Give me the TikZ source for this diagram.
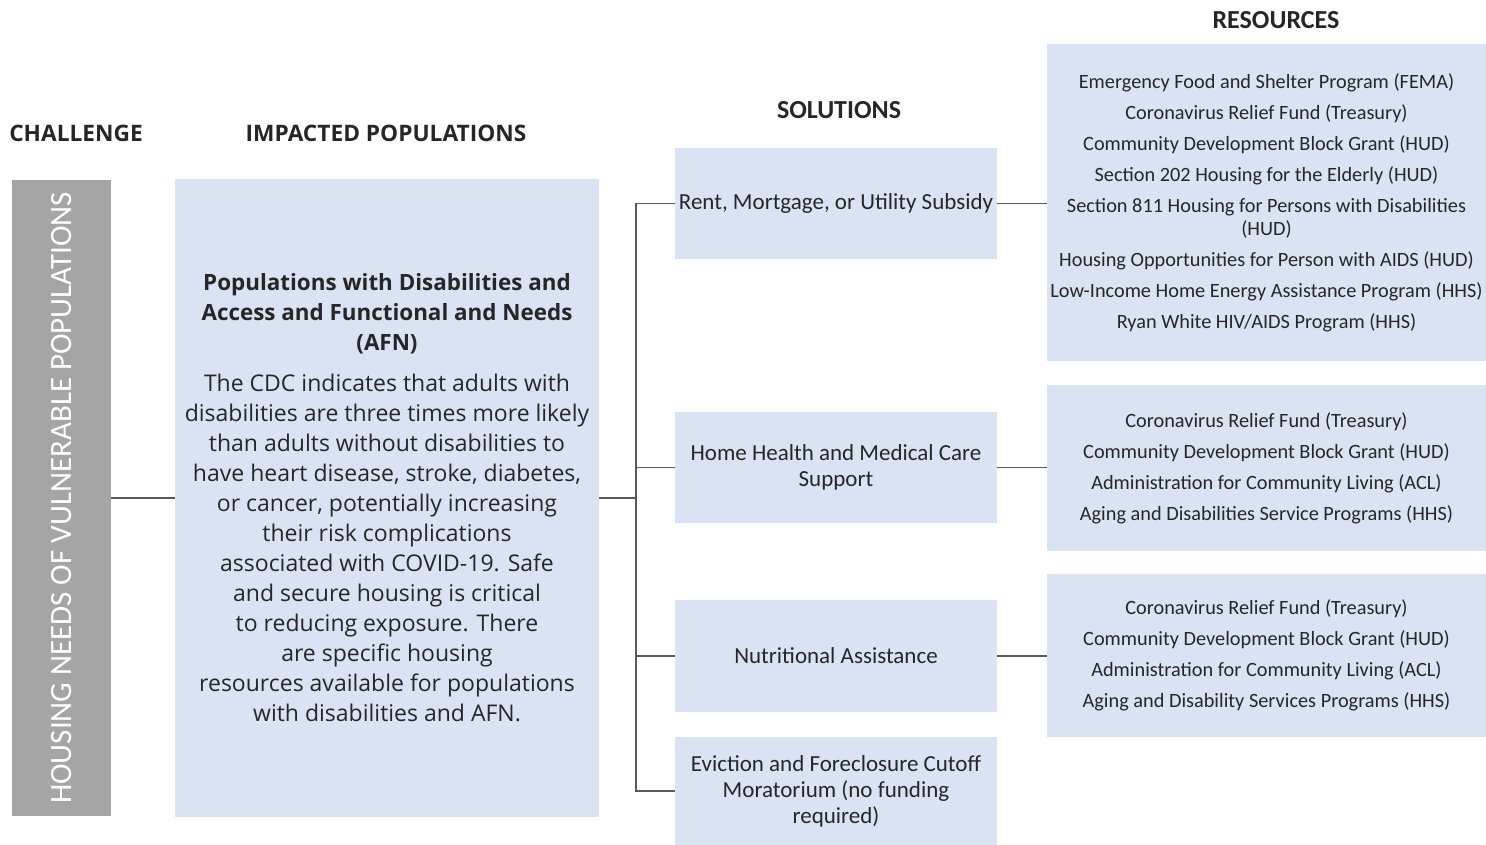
\documentclass[tikz,border=0pt]{standalone}
\usepackage{fontspec}
\setmainfont{Carlito}
\newfontfamily\opensans{Open Sans}
\usetikzlibrary{positioning}

\definecolor{boxblue}{HTML}{DAE3F3}
\definecolor{chalgray}{HTML}{A5A5A5}
\definecolor{linegray}{HTML}{595959}
\definecolor{textgray}{HTML}{262626}

\tikzset{
  panel/.style={fill=boxblue, inner sep=0pt, align=center, text=textgray},
  head/.style={font=\bfseries\fontsize{26}{30}\selectfont, text=textgray},
  link/.style={draw=linegray, line width=1.6pt}
}

\begin{document}
\begin{tikzpicture}[x=1pt, y=-1pt]

    \useasboundingbox (0,0) rectangle (1486,845);

    \node[head, font=\opensans\bfseries\fontsize{22.7}{26}\selectfont] (hchal) at (76,133) {CHALLENGE};
    \node[head, font=\opensans\bfseries\fontsize{22.7}{26}\selectfont] (himp) at (386,133) {IMPACTED POPULATIONS};
    \node[head] (hsol) at (839,110) {SOLUTIONS};
    \node[head] (hres) at (1276,20) {RESOURCES};

    \node[fill=chalgray, inner sep=0pt, minimum width=635pt, minimum height=99pt, rotate=90,
          text=white, font=\fontsize{31}{36}\selectfont] (chal) at (61.5,498)
          {HOUSING NEEDS OF VULNERABLE POPULATIONS};

    \node[panel, minimum width=424pt, minimum height=638pt,
          font=\opensans\fontsize{23}{30}\selectfont] (afn) at (387,498)
          {{\fontsize{22.4}{30}\selectfont\bfseries Populations with Disabilities and}\\
           {\fontsize{22.4}{30}\selectfont\bfseries Access and Functional and Needs}\\
           {\fontsize{22.4}{30}\selectfont\bfseries (AFN)}\\[11pt]
           The CDC indicates that adults with\\
           disabilities are three times more likely\\
           than adults without disabilities to\\
           have heart disease, stroke, diabetes,\\
           or cancer, potentially increasing\\
           their risk complications\\
           associated with COVID-19. Safe\\
           and secure housing is critical\\
           to reducing exposure. There\\
           are specific housing\\
           resources available for populations\\
           with disabilities and AFN.};

    \node[panel, minimum width=322pt, minimum height=111pt,
          font=\fontsize{23}{26}\selectfont] (rent) at (836,203.5)
          {Rent, Mortgage, or Utility Subsidy};
    \node[panel, minimum width=322pt, minimum height=111pt,
          font=\fontsize{23}{26}\selectfont] (health) at (836,467.5)
          {Home Health and Medical Care\\ Support};
    \node[panel, minimum width=322pt, minimum height=112pt,
          font=\fontsize{23}{26}\selectfont] (food) at (836,656)
          {Nutritional Assistance};
    \node[panel, minimum width=322pt, minimum height=108pt,
          font=\fontsize{23}{26}\selectfont] (evict) at (836,791)
          {Eviction and Foreclosure Cutoff\\ Moratorium (no funding\\ required)};

    \node[panel, minimum width=439pt, minimum height=317pt,
          font=\fontsize{20.3}{23}\selectfont] (resrent) at (1266.5,202.5)
          {Emergency Food and Shelter Program (FEMA)\\[8pt]
           Coronavirus Relief Fund (Treasury)\\[8pt]
           Community Development Block Grant (HUD)\\[8pt]
           Section 202 Housing for the Elderly (HUD)\\[8pt]
           Section 811 Housing for Persons with Disabilities\\
           (HUD)\\[8pt]
           Housing Opportunities for Person with AIDS (HUD)\\[8pt]
           Low-Income Home Energy Assistance Program (HHS)\\[8pt]
           Ryan White HIV/AIDS Program (HHS)};
    \node[panel, minimum width=439pt, minimum height=166pt,
          font=\fontsize{20.3}{23}\selectfont] (reshealth) at (1266.5,468)
          {Coronavirus Relief Fund (Treasury)\\[8pt]
           Community Development Block Grant (HUD)\\[8pt]
           Administration for Community Living (ACL)\\[8pt]
           Aging and Disabilities Service Programs (HHS)};
    \node[panel, minimum width=439pt, minimum height=163pt,
          font=\fontsize{20.3}{23}\selectfont] (resfood) at (1266.5,655.5)
          {Coronavirus Relief Fund (Treasury)\\[8pt]
           Community Development Block Grant (HUD)\\[8pt]
           Administration for Community Living (ACL)\\[8pt]
           Aging and Disability Services Programs (HHS)};

    \coordinate (bus) at ([xshift=37pt]afn.east);

    \draw[link] (chal.south) -- (afn.west);
    \draw[link] (afn.east) -- (bus);
    \draw[link] (bus) |- (rent.west);
    \draw[link] (bus) |- (health.west);
    \draw[link] (bus) |- (food.west);
    \draw[link] (bus) |- (evict.west);

    \draw[link] (rent.east) -- (rent.east -| resrent.west);
    \draw[link] (health.east) -- (health.east -| reshealth.west);
    \draw[link] (food.east) -- (food.east -| resfood.west);

\end{tikzpicture}
\end{document}
